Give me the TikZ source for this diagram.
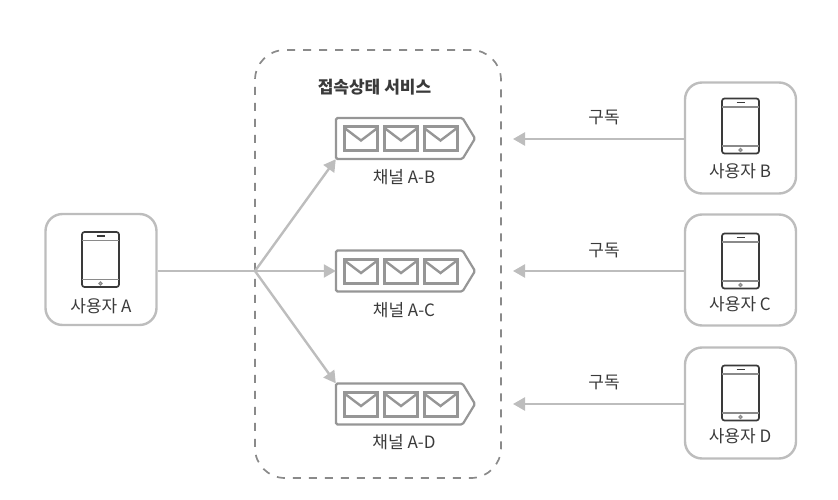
\documentclass[tikz,border=0pt]{standalone}
\usepackage{fontspec}
\setmainfont{Noto Sans CJK KR}
\usetikzlibrary{arrows.meta}
\definecolor{gline}{HTML}{BDBDBD}
\definecolor{dline}{HTML}{8A8A8A}
\definecolor{qline}{HTML}{969696}
\definecolor{ink}{HTML}{3A3A3A}
\tikzset{
  x=1pt,y=-1pt,
  userbox/.style={draw=gline,line width=2.4pt,rounded corners=17pt,minimum width=111pt,minimum height=111pt,inner sep=0pt,fill=white},
  qanchor/.style={minimum width=139pt,minimum height=41pt,inner sep=0pt},
  lbl/.style={text=ink,font=\fontsize{17}{19}\selectfont,inner sep=0pt},
  title/.style={text=ink,font=\fontsize{17}{19}\selectfont\bfseries,inner sep=0pt},
  conn/.style={draw=gline,line width=2.4pt},
  arr/.style={conn,-{Triangle[length=12pt,width=13pt,inset=0pt,sep=0pt]},shorten >=0pt},
  pics/phone/.style={code={
    \draw[ink,line width=1.7pt,rounded corners=2.5pt] (-18.5,-27.5) rectangle (18.5,27.5);
    \draw[dline,line width=1.2pt] (-18.5,-19) -- (18.5,-19) (-18.5,20) -- (18.5,20);
    \draw[ink,line width=1.6pt] (-4,-23.5) -- (4,-23.5);
    \draw[dline,line width=1.3pt] (0,24) circle (1.5);
  }},
  pics/mail/.style={code={
    \draw[qline,line width=3pt] (-16.5,-12) rectangle (16.5,12);
    \draw[qline,line width=2.4pt] (-16.5,-10.5) -- (0,2) -- (16.5,-10.5);
  }},
  pics/queue/.style={code={
    \draw[qline,line width=2.2pt,rounded corners=1.5pt] (-69.5,-20.5) -- (57,-20.5) -- (69.5,0) -- (57,20.5) -- (-69.5,20.5) -- cycle;
    \pic at (-44.5,0) {mail};
    \pic at (-4.5,0) {mail};
    \pic at (35,0) {mail};
  }}
}
\begin{document}
\begin{tikzpicture}
\useasboundingbox (0,0) rectangle (838,500);
\node[draw=dline,line width=1.7pt,rounded corners=30pt,minimum width=246pt,minimum height=428pt,inner sep=0pt,dash pattern=on 8pt off 8pt] (svc) at (378,264) {};
\node[title] (svct) at (374.5,87) {접속상태 서비스};

\node[userbox] (ua) at (101,269.5) {};
\node[userbox] (ub) at (740.5,138) {};
\node[userbox] (uc) at (740.5,270) {};
\node[userbox] (ud) at (740.5,403) {};
\pic at (100.5,259.5) {phone};
\pic at (740.5,126) {phone};
\pic at (740.5,261) {phone};
\pic at (740.5,393) {phone};
\node[lbl] (la) at (101,306) {사용자 A};
\node[lbl] (lb) at (740,171) {사용자 B};
\node[lbl] (lc) at (740,304) {사용자 C};
\node[lbl] (ld) at (740,436) {사용자 D};

\node[qanchor] (qb) at (405.5,138.5) {};
\node[qanchor] (qc) at (405.5,271) {};
\node[qanchor] (qd) at (405.5,404) {};
\pic at (qb) {queue};
\pic at (qc) {queue};
\pic at (qd) {queue};
\node[lbl] (tb) at (404,177) {채널 A-B};
\node[lbl] (tc) at (404,310) {채널 A-C};
\node[lbl] (td) at (404,442) {채널 A-D};

\coordinate (hub) at (255,271);
\draw[conn] (ua.east |- hub) -- (hub);
\draw[arr] (hub) -- (qb.south west);
\draw[arr] (hub) -- (qc.west);
\draw[arr] (hub) -- (qd.north west);

\coordinate (eb) at (513,139);
\coordinate (ec) at (513,271);
\coordinate (ed) at (513,404);
\draw[arr] (ub.west |- eb) -- (eb);
\draw[arr] (uc.west |- ec) -- (ec);
\draw[arr] (ud.west |- ed) -- (ed);
\node[lbl] (sb) at (604,118) {구독};
\node[lbl] (sc) at (604,251) {구독};
\node[lbl] (sd) at (604,383) {구독};
\end{tikzpicture}
\end{document}
